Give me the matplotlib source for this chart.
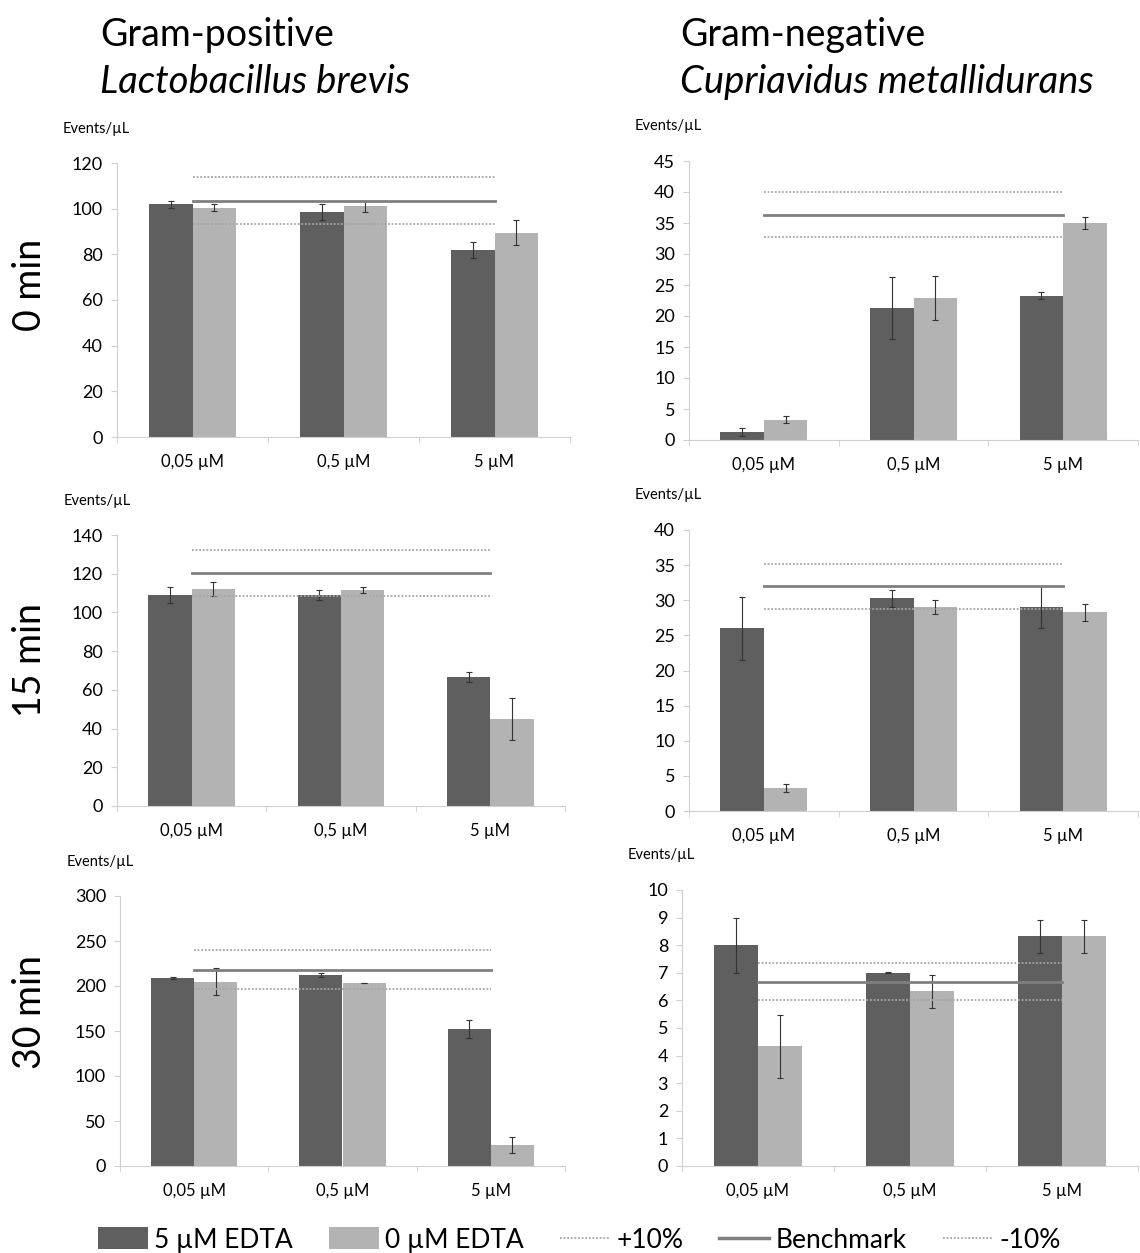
import numpy as np
import matplotlib
matplotlib.use("Agg")
import matplotlib.pyplot as plt
from matplotlib.patches import Patch
from matplotlib.lines import Line2D

plt.rcParams['font.family'] = ['Lato', 'DejaVu Sans']

categories = ['0,05 µM', '0,5 µM', '5 µM']

# Lactobacillus brevis (Gram-positive)
lb_0_edta = [102, 98.5, 82]
lb_0_edta_err = [1.5, 3.5, 3.5]
lb_0_none = [100.5, 101, 89.5]
lb_0_none_err = [1.5, 2.5, 5.5]
lb_0_bench = 103.5

lb_15_edta = [109, 109, 66.5]
lb_15_edta_err = [4, 2.5, 2.5]
lb_15_none = [112, 111.5, 45]
lb_15_none_err = [3.5, 1.5, 11]
lb_15_bench = 120.3

lb_30_edta = [208.5, 212, 152]
lb_30_edta_err = [1, 2, 10]
lb_30_none = [205, 203, 23]
lb_30_none_err = [15, 0, 9]
lb_30_bench = 218

# Cupriavidus metallidurans (Gram-negative)
cm_0_edta = [1.3, 21.3, 23.3]
cm_0_edta_err = [0.7, 5, 0.5]
cm_0_none = [3.3, 22.9, 35]
cm_0_none_err = [0.6, 3.5, 0.9]
cm_0_bench = 36.3

cm_15_edta = [26, 30.3, 29]
cm_15_edta_err = [4.5, 1.2, 3]
cm_15_none = [3.3, 29, 28.3]
cm_15_none_err = [0.6, 1, 1.2]
cm_15_bench = 32

cm_30_edta = [8, 7, 8.33]
cm_30_edta_err = [1, 0.02, 0.6]
cm_30_none = [4.33, 6.33, 8.33]
cm_30_none_err = [1.15, 0.6, 0.6]
cm_30_bench = 6.67

DARK = '#5f5f5f'
LIGHT = '#b3b3b3'
BENCH = '#7f7f7f'
DOT = '#a6a6a6'

W, H = 1140, 1253
fig = plt.figure(figsize=(W / 100, H / 100), dpi=100)


def px_axes(left, right, top, bottom):
    return fig.add_axes([left / W, 1 - bottom / H, (right - left) / W, (bottom - top) / H])


def panel(ax, edta, edta_err, none, none_err, bench, ymax, ystep):
    x = np.arange(len(categories))
    w = 0.29
    ax.bar(x - w / 2, edta, w, color=DARK, yerr=edta_err, capsize=2,
           error_kw=dict(ecolor='#333333', elinewidth=0.8, capthick=0.8))
    ax.bar(x + w / 2, none, w, color=LIGHT, yerr=none_err, capsize=2,
           error_kw=dict(ecolor='#333333', elinewidth=0.8, capthick=0.8))
    xs = [0, len(categories) - 1]
    ax.plot(xs, [bench * 1.1] * 2, color=DOT, lw=1.3, ls=(0, (1, 1)))
    ax.plot(xs, [bench] * 2, color=BENCH, lw=2)
    ax.plot(xs, [bench * 0.9] * 2, color=DOT, lw=1.3, ls=(0, (1, 1)))
    ax.set_xlim(-0.5, len(categories) - 0.5)
    ax.set_ylim(0, ymax)
    ax.set_yticks(np.arange(0, ymax + ystep / 2, ystep))
    ax.set_xticks(x)
    ax.set_xticklabels(categories)
    ax.set_xticks(np.arange(-0.5, len(categories)), minor=True)
    ax.tick_params(axis='x', which='major', length=0, pad=12, labelsize=12)
    ax.tick_params(axis='x', which='minor', length=4, color='#d0d0d0')
    ax.tick_params(axis='y', length=4, color='#d0d0d0', labelsize=13, pad=6)
    for s in ['top', 'right']:
        ax.spines[s].set_visible(False)
    for s in ['left', 'bottom']:
        ax.spines[s].set_color('#d0d0d0')
        ax.spines[s].set_linewidth(0.8)
    ax.text(-0.12, 1.1, 'Events/µL', transform=ax.transAxes, fontsize=10.5,
            ha='left', va='bottom')


ax1 = px_axes(117, 570, 163, 437)
panel(ax1, lb_0_edta, lb_0_edta_err, lb_0_none, lb_0_none_err, lb_0_bench, 120, 20)
ax2 = px_axes(689, 1138, 161, 440)
panel(ax2, cm_0_edta, cm_0_edta_err, cm_0_none, cm_0_none_err, cm_0_bench, 45, 5)
ax3 = px_axes(117, 565, 535, 806)
panel(ax3, lb_15_edta, lb_15_edta_err, lb_15_none, lb_15_none_err, lb_15_bench, 140, 20)
ax4 = px_axes(689, 1138, 530, 811)
panel(ax4, cm_15_edta, cm_15_edta_err, cm_15_none, cm_15_none_err, cm_15_bench, 40, 5)
ax5 = px_axes(120, 565, 896, 1166)
panel(ax5, lb_30_edta, lb_30_edta_err, lb_30_none, lb_30_none_err, lb_30_bench, 300, 50)
ax6 = px_axes(682, 1138, 890, 1166)
panel(ax6, cm_30_edta, cm_30_edta_err, cm_30_none, cm_30_none_err, cm_30_bench, 10, 1)

# column titles
fig.text(100 / W, 1 - 35 / H, 'Gram-positive', fontsize=27, va='center', ha='left')
fig.text(100 / W, 1 - 82 / H, 'Lactobacillus brevis', fontsize=27.5, style='italic',
         va='center', ha='left')
fig.text(680 / W, 1 - 35 / H, 'Gram-negative', fontsize=27, va='center', ha='left')
fig.text(680 / W, 1 - 82 / H, 'Cupriavidus metallidurans', fontsize=27.5, style='italic',
         va='center', ha='left')

# row labels
for label, yc in [('0 min', 285), ('15 min', 660), ('30 min', 1012)]:
    fig.text(30 / W, 1 - yc / H, label, fontsize=27, rotation=90, va='center', ha='center')

handles = [
    Patch(facecolor=DARK, label='5 µM EDTA'),
    Patch(facecolor=LIGHT, label='0 µM EDTA'),
    Line2D([], [], color=DOT, lw=1.3, ls=(0, (1, 1)), label='+10%'),
    Line2D([], [], color=BENCH, lw=2.5, label='Benchmark'),
    Line2D([], [], color=DOT, lw=1.3, ls=(0, (1, 1)), label='-10%'),
]
fig.legend(handles=handles, loc='center', bbox_to_anchor=(0.508, 1 - 1240 / H), ncol=5,
           frameon=False, fontsize=19, handlelength=1.9, handleheight=0.9,
           columnspacing=1.35, handletextpad=0.25)

fig.savefig('out.png', dpi=100)
